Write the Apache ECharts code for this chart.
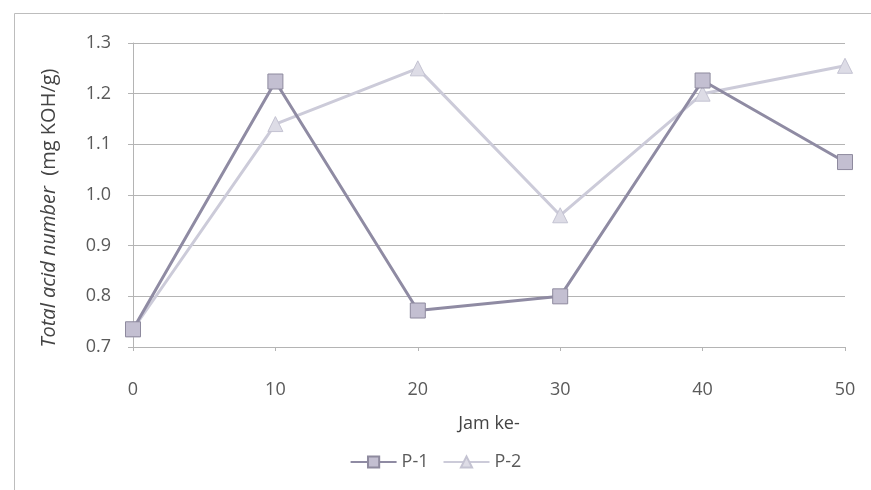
<!DOCTYPE html>
<html>
<head>
<meta charset="utf-8">
<script src="https://cdn.jsdelivr.net/npm/echarts@6/dist/echarts.min.js"></script>
<style>
  html, body { margin: 0; padding: 0; background: #ffffff; }
  #chart { width: 871px; height: 490px; }
</style>
</head>
<body>
<div id="chart"></div>
<script>
// Hours of operation (x) and total acid number readings (mg KOH/g)
const hours = [0, 10, 20, 30, 40, 50];
const p1Values = [0.735, 1.224, 0.772, 0.800, 1.226, 1.065];
const p2Values = [0.735, 1.140, 1.250, 0.960, 1.200, 1.255];
const seriesNames = ['P-1', 'P-2'];
const yTicks = { min: 0.7, max: 1.3, step: 0.1 };
const xTicks = { min: 0, max: 50, step: 10 };

const pair = (xs, ys) => xs.map((x, i) => [x, ys[i]]);

const fontFamily = '"Open Sans", Lato, sans-serif';
const textColor = '#5a5a5a';
const gridColor = '#b4b4b4';

const chart = echarts.init(document.getElementById('chart'));
chart.setOption({
  backgroundColor: '#ffffff',
  animation: false,
  graphic: [{
    type: 'rect',
    left: 12, top: 11,
    shape: { width: 860, height: 478 },
    style: { fill: 'none', stroke: '#bdbdbd', lineWidth: 1 },
    silent: true
  }],
  grid: { left: 133, right: 26, top: 43, bottom: 143 },
  legend: {
    data: seriesNames,
    bottom: 14,
    left: 'center',
    itemWidth: 46,
    itemHeight: 14,
    itemGap: 14,
    textStyle: { fontFamily, fontSize: 18, color: textColor }
  },
  xAxis: {
    type: 'value',
    min: xTicks.min, max: xTicks.max, interval: xTicks.step,
    name: 'Jam ke-',
    nameLocation: 'middle',
    nameGap: 68,
    nameTextStyle: { fontFamily, fontSize: 18, color: '#444444' },
    axisLine: { show: true, lineStyle: { color: gridColor, width: 1 } },
    axisTick: { show: true, inside: false, length: 4, lineStyle: { color: gridColor } },
    axisLabel: { fontFamily, fontSize: 18, color: textColor, margin: 34 },
    splitLine: { show: false }
  },
  yAxis: {
    type: 'value',
    min: yTicks.min, max: yTicks.max, interval: yTicks.step,
    name: '{it|Total acid number}{n|  (mg KOH/g)}',
    nameLocation: 'middle',
    nameGap: 74,
    nameRotate: 90,
    nameTextStyle: {
      padding: [0, 26, 0, 0],
      rich: {
        it: { fontFamily, fontSize: 20, fontStyle: 'italic', color: '#444444' },
        n: { fontFamily, fontSize: 20, color: '#444444' }
      }
    },
    axisLine: { show: true, lineStyle: { color: gridColor, width: 1 } },
    axisTick: { show: true, length: 5, lineStyle: { color: gridColor } },
    axisLabel: {
      fontFamily, fontSize: 18, color: textColor, margin: 22,
      formatter: v => v.toFixed(1)
    },
    splitLine: { show: true, lineStyle: { color: gridColor, width: 1 } }
  },
  series: [
    {
      name: seriesNames[0],
      type: 'line',
      data: pair(hours, p1Values),
      symbol: 'rect',
      symbolSize: 15,
      lineStyle: { color: '#8f8ba3', width: 3 },
      itemStyle: { color: '#c3bfd1', borderColor: '#8e8a9e', borderWidth: 1 },
      z: 3
    },
    {
      name: seriesNames[1],
      type: 'line',
      data: pair(hours, p2Values),
      symbol: 'triangle',
      symbolSize: 15,
      lineStyle: { color: '#cccbd9', width: 3 },
      itemStyle: { color: '#dddce6', borderColor: '#c4c3d2', borderWidth: 1 },
      z: 2
    }
  ]
});
</script>
</body>
</html>
